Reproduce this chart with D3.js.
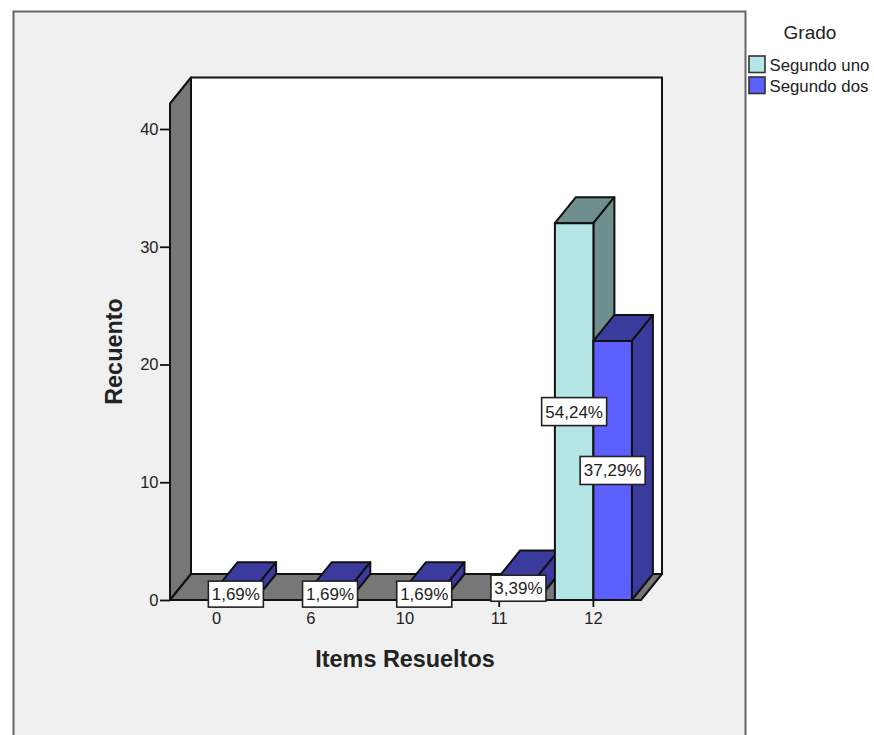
<!DOCTYPE html>
<html><head><meta charset="utf-8">
<script src="https://cdn.jsdelivr.net/npm/d3@7"></script>
<style>html,body{margin:0;padding:0;background:#fff}svg{display:block}text{font-family:"Liberation Sans",Arial,sans-serif;fill:#222}</style>
</head><body><div id="chart"></div>
<script>
const categories = ["0","6","10","11","12"];
const seriesNames = ["Segundo uno","Segundo dos"];
const segundoUno = [0,0,0,0,32];
const segundoDos = [1,1,1,2,22];
const labelsUno = ["","","","","54,24%"];
const labelsDos = ["1,69%","1,69%","1,69%","3,39%","37,29%"];
const yTicks = [0,10,20,30,40];
const colors = {front:["#b5e6e6","#5b60ff"],side:["#6f8f8f","#3a3b9c"],wall:"#777777",panel:"#f0f0f0",line:"#111"};

const W=874,H=735;
const svg=d3.select("#chart").append("svg").attr("width",W).attr("height",H);
const x0=d3.scaleBand().domain(categories).range([170,641]);
const x1=d3.scaleBand().domain(seriesNames).range([x0.bandwidth()/2-39,x0.bandwidth()/2+38]);
const y=d3.scaleLinear().domain([0,40]).range([600,129]);
const dx=21,dy=-26;
const topV=y.invert(103.5);
const L=x0.range()[0],R=x0.range()[1];
const poly=(pts,fill)=>svg.append("path").attr("d",d3.line()(pts)+"Z").attr("fill",fill).attr("stroke",colors.line).attr("stroke-width",2).attr("stroke-linejoin","round");

// panel
svg.append("rect").attr("x",13.5).attr("y",11.5).attr("width",732).attr("height",740).attr("fill",colors.panel).attr("stroke","#666").attr("stroke-width",2);

// walls
poly([[L+dx,y(0)+dy],[R+dx,y(0)+dy],[R+dx,y(topV)+dy],[L+dx,y(topV)+dy]],"#fff");
poly([[L,y(0)],[L+dx,y(0)+dy],[L+dx,y(topV)+dy],[L,y(topV)]],colors.wall);
poly([[L,y(0)],[R,y(0)],[R+dx,y(0)+dy],[L+dx,y(0)+dy]],colors.wall);

// bars
function bar(cat,s,i,v){
  if(!v) return;
  const a=x0(cat)+x1(s),b=a+x1.bandwidth(),t=y(v),o=y(0);
  poly([[a,t],[b,t],[b+dx,t+dy],[a+dx,t+dy]],colors.side[i]);
  poly([[b,t],[b,o],[b+dx,o+dy],[b+dx,t+dy]],colors.side[i]);
  poly([[a,t],[b,t],[b,o],[a,o]],colors.front[i]);
}
categories.forEach((c,k)=>{bar(c,seriesNames[0],0,segundoUno[k]);bar(c,seriesNames[1],1,segundoDos[k]);});

// axes
const ax=d3.axisLeft(y).tickValues(yTicks).tickSize(10).tickPadding(1.5).tickSizeOuter(0);
const gy=svg.append("g").attr("transform",`translate(${L},0)`).call(ax);
gy.select(".domain").remove();
const bx=d3.axisBottom(x0).tickSize(7).tickPadding(5).tickSizeOuter(0);
const gx=svg.append("g").attr("transform",`translate(-0.5,${y(0)})`).call(bx);
gx.select(".domain").remove();
[gy,gx].forEach(g=>{g.selectAll("line").attr("stroke",colors.line).attr("stroke-width",1.8);
 g.selectAll("text").attr("font-size",16.5).attr("fill","#222");g.attr("font-family",null).attr("font-size",null);});

// value labels
function label(cat,s,v,t){
  if(!t) return;
  const cx=x0(cat)+x1(s)+x1.bandwidth()/2,cy=y(v/2);
  const w=t.length>5?65:55,h=t.length>5?28:26;
  svg.append("rect").attr("x",cx-w/2).attr("y",cy-h/2).attr("width",w).attr("height",h).attr("fill","#fff").attr("stroke","#222").attr("stroke-width",1.6);
  svg.append("text").attr("x",cx).attr("y",cy+6).attr("text-anchor","middle").attr("font-size",17).text(t);
}
categories.forEach((c,k)=>{label(c,seriesNames[0],segundoUno[k],labelsUno[k]);label(c,seriesNames[1],segundoDos[k],labelsDos[k]);});

// titles
svg.append("text").attr("x",405).attr("y",667).attr("text-anchor","middle").attr("font-size",23.4).attr("font-weight","bold").attr("fill","#111").text("Items Resueltos");
svg.append("text").attr("transform","translate(122,351.5) rotate(-90)").attr("text-anchor","middle").attr("font-size",23.4).attr("font-weight","bold").attr("fill","#111").text("Recuento");

// legend
svg.append("text").attr("x",810).attr("y",39).attr("text-anchor","middle").attr("font-size",19).text("Grado");
seriesNames.forEach((s,i)=>{
  const ly=56+i*21;
  svg.append("rect").attr("x",749).attr("y",ly).attr("width",16).attr("height",16.5).attr("fill",colors.front[i]).attr("stroke","#333").attr("stroke-width",1.6);
  svg.append("text").attr("x",769.5).attr("y",ly+14.5).attr("font-size",16.8).text(s);
});
</script></body></html>
